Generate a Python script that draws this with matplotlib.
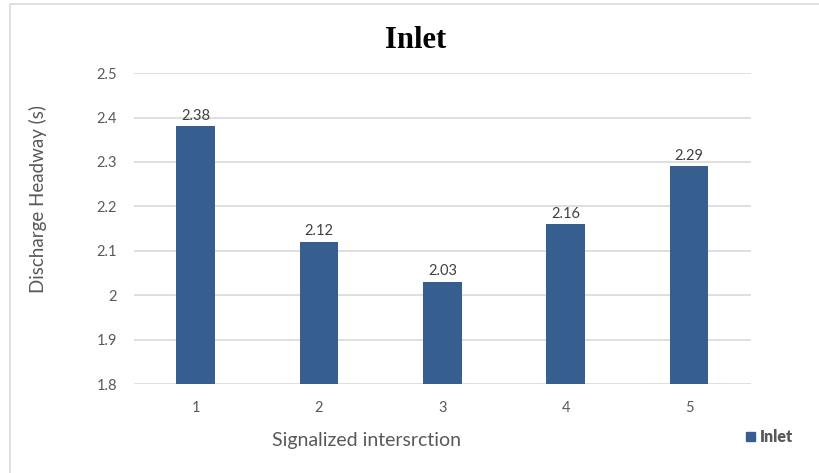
import numpy as np
import matplotlib.pyplot as plt
from matplotlib.patches import Rectangle

# данные
categories = ['1', '2', '3', '4', '5']
values = [2.38, 2.12, 2.03, 2.16, 2.29]
yticks = [1.8, 1.9, 2.0, 2.1, 2.2, 2.3, 2.4, 2.5]
ytick_labels = ['1.8', '1.9', '2', '2.1', '2.2', '2.3', '2.4', '2.5']

bar_color = '#365F8F'
text_gray = '#595959'
plt.rcParams['font.family'] = ['Lato', 'DejaVu Sans']

fig = plt.figure(figsize=(8.19, 4.73), dpi=100)
ax = fig.add_axes([0.1636, 0.188, 0.753, 0.6575])

# рамка диаграммы
fig.patches.append(Rectangle((10 / 819, -0.1), 1.2, 1.1 - 4 / 473, transform=fig.transFigure,
                             fill=False, edgecolor='#D9D9D9', linewidth=1.2, zorder=0))

x = np.arange(len(categories))
ax.bar(x, [v - 1.8 for v in values], bottom=1.8, width=0.315, color=bar_color, zorder=3)
for xi, v in zip(x, values):
    ax.text(xi, v + 0.008, f'{v:g}', ha='center', va='bottom', fontsize=10.5, color='#404040')

ax.set_xlim(-0.5, 4.5)
ax.set_ylim(1.8, 2.5)
ax.set_yticks(yticks)
ax.set_yticklabels(ytick_labels)
ax.set_xticks(x)
ax.set_xticklabels(categories)
ax.tick_params(axis='both', length=0, labelsize=10.5, colors=text_gray)
ax.tick_params(axis='y', pad=12)
ax.tick_params(axis='x', pad=12)
ax.grid(axis='y', color='#D9D9D9', linewidth=1.2, zorder=0)
for s in ax.spines.values():
    s.set_visible(False)

# заголовок и подписи осей (Excel центрирует их по области диаграммы)
fig.text(416 / 819, 1 - 41 / 473, 'Inlet', fontsize=22, fontweight='bold', family='Liberation Serif',
         ha='center', va='center')
ax.set_xlabel('Signalized intersrction', fontsize=14, color=text_gray, labelpad=16)
ax.xaxis.set_label_coords((367 - 134) / 617, -0.155)
ax.set_ylabel('Discharge Headway (s)', fontsize=13.5, color=text_gray)
ax.yaxis.set_label_coords(-(134 - 47) / 617, (384 - 199) / 311)

# легенда
fig.patches.append(Rectangle((746 / 819, 1 - 441 / 473), 9 / 819, 9 / 473, transform=fig.transFigure,
                             color=bar_color))
fig.text(760 / 819, 1 - 437 / 473, 'Inlet', fontsize=11.5, fontweight='heavy', color=text_gray,
         va='center', ha='left')

plt.savefig('out.png', dpi=100)
